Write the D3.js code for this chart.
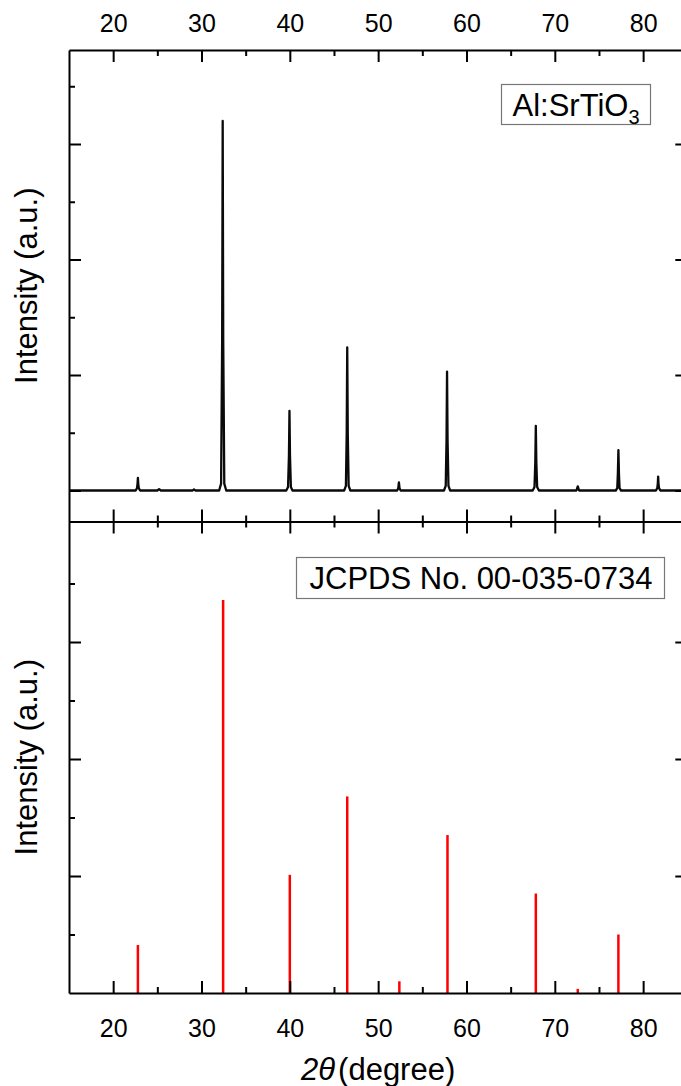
<!DOCTYPE html>
<html><head><meta charset="utf-8">
<script src="https://cdn.jsdelivr.net/npm/d3@7"></script>
<style>body{margin:0;background:#fff} text{font-family:"Liberation Sans",Arial,sans-serif}</style>
</head><body><svg id="c" width="681" height="1086"></svg>
<script>
// ---------- data ----------
const xMajor = [20, 30, 40, 50, 60, 70, 80];
const xMinor = [25, 35, 45, 55, 65, 75, 85];
const yMajor = [0, 1, 2, 3];
const yMinor = [0.5, 1.5, 2.5, 3.5];
// measured Al:SrTiO3 pattern [2theta, intensity a.u.]
const pattern = [
 [15.0,0],[20.0,0],[22.55,0],[22.7,0.02],[22.76,0.06],[22.8,0.11],[22.84,0.06],[22.9,0.02],[23.05,0],
 [25.0,0],[25.2,0.012],[25.4,0],[29.0,0],[29.15,0.01],[29.3,0],
 [32.0,0],[32.22,0.06],[32.34,1.3],[32.4,3.2],[32.46,1.3],[32.58,0.06],[32.8,0],
 [39.6,0],[39.8,0.03],[39.9,0.3],[39.96,0.69],[40.02,0.3],[40.12,0.03],[40.3,0],
 [46.15,0],[46.35,0.04],[46.44,0.5],[46.5,1.24],[46.56,0.5],[46.66,0.04],[46.85,0],
 [52.15,0],[52.28,0.02],[52.35,0.07],[52.42,0.02],[52.55,0],
 [57.45,0],[57.65,0.04],[57.74,0.43],[57.8,1.03],[57.86,0.43],[57.96,0.04],[58.15,0],
 [67.5,0],[67.7,0.03],[67.79,0.24],[67.85,0.56],[67.91,0.24],[68.0,0.03],[68.2,0],
 [72.45,0],[72.6,0.035],[72.75,0],
 [76.9,0],[77.07,0.02],[77.14,0.15],[77.2,0.35],[77.26,0.15],[77.33,0.02],[77.5,0],
 [81.45,0],[81.6,0.02],[81.66,0.06],[81.7,0.12],[81.74,0.06],[81.8,0.02],[81.95,0],
 [85.0,0]
];
// JCPDS No. 00-035-0734 reference lines
const refPos = [22.8, 32.45, 40.0, 46.5, 52.4, 57.85, 67.85, 72.6, 77.2];
const refInt = [0.41, 3.36, 1.01, 1.68, 0.10, 1.35, 0.85, 0.035, 0.50];
const labelTopMain = "Al:SrTiO", labelTopSub = "3";
const labelRef = "JCPDS No. 00-035-0734";
const yTitle = "Intensity (a.u.)";

// ---------- layout ----------
const svg = d3.select("#c");
const L = 69, R = 687.3, T = 50, M = 521.5, B = 993;
const x = d3.scaleLinear().domain([15, 85]).range([L, R]);
const yU = d3.scaleLinear().domain([-0.2684, 3.8139]).range([M, T]);
const yL = d3.scaleLinear().domain([0, 4.03]).range([B, M]);
const tickFont = 25, titleFont = 31;

svg.append("defs").append("clipPath").attr("id","clipU")
  .append("rect").attr("x",L).attr("y",T).attr("width",R-L).attr("height",M-T);

// pattern
svg.append("path").datum(pattern)
  .attr("clip-path","url(#clipU)")
  .attr("fill","none").attr("stroke","#0a0a0a").attr("stroke-width",2.3).attr("stroke-linejoin","round")
  .attr("d", d3.line().x(d=>x(d[0])).y(d=>yU(d[1])));

// reference sticks
svg.append("g").selectAll("line").data(refPos).join("line")
  .attr("x1",d=>x(d)).attr("x2",d=>x(d))
  .attr("y1",yL(0)).attr("y2",(d,i)=>yL(refInt[i]))
  .attr("stroke","#ff0000").attr("stroke-width",2.5);

function styleAxis(g, font){
  g.selectAll("path.domain").attr("stroke","#000").attr("stroke-width",2);
  g.selectAll(".tick line").attr("stroke","#000").attr("stroke-width",2);
  g.selectAll("text").attr("font-size",font).attr("fill","#000")
    .style("font-family",'"Liberation Sans",Arial,sans-serif');
}
function addAxis(axis, tx, ty, font){
  const g = svg.append("g").attr("transform",`translate(${tx},${ty})`).call(axis);
  styleAxis(g, font||tickFont);
  return g;
}
// top axis
addAxis(d3.axisTop(x).tickValues(xMajor).tickSize(-12).tickSizeOuter(0).tickPadding(18).tickFormat(d3.format("d")),0,T);
addAxis(d3.axisTop(x).tickValues(xMinor).tickSize(-6).tickSizeOuter(0).tickFormat(""),0,T).select(".domain").remove();
// middle divider (ticks both sides)
addAxis(d3.axisBottom(x).tickValues(xMajor).tickSize(-12).tickSizeOuter(0).tickFormat(""),0,M);
addAxis(d3.axisBottom(x).tickValues(xMajor).tickSize(12).tickSizeOuter(0).tickFormat(""),0,M).select(".domain").remove();
addAxis(d3.axisBottom(x).tickValues(xMinor).tickSize(-6).tickSizeOuter(0).tickFormat(""),0,M).select(".domain").remove();
addAxis(d3.axisBottom(x).tickValues(xMinor).tickSize(6).tickSizeOuter(0).tickFormat(""),0,M).select(".domain").remove();
// bottom axis
addAxis(d3.axisBottom(x).tickValues(xMajor).tickSize(-12).tickSizeOuter(0).tickPadding(26).tickFormat(d3.format("d")),0,B);
addAxis(d3.axisBottom(x).tickValues(xMinor).tickSize(-6).tickSizeOuter(0).tickFormat(""),0,B).select(".domain").remove();
// left / right axes, upper & lower
[[yU,yMajor],[yL,yMajor.filter(v=>v>0)]].forEach(([ys,maj])=>{
  addAxis(d3.axisLeft(ys).tickValues(maj).tickSize(-12).tickSizeOuter(0).tickFormat(""),L,0);
  addAxis(d3.axisLeft(ys).tickValues(yMinor).tickSize(-6).tickSizeOuter(0).tickFormat(""),L,0).select(".domain").remove();
  addAxis(d3.axisRight(ys).tickValues(maj).tickSize(-12).tickSizeOuter(0).tickFormat(""),R,0);
  addAxis(d3.axisRight(ys).tickValues(yMinor).tickSize(-6).tickSizeOuter(0).tickFormat(""),R,0).select(".domain").remove();
});

// y titles
[[yU,(T+M)/2],[yL,(M+B)/2]].forEach(([ys,cy])=>{
  svg.append("text").attr("transform",`translate(37,${cy}) rotate(-90)`)
    .attr("text-anchor","middle").attr("font-size",titleFont).text(yTitle);
});
// x title
const xt = svg.append("text").attr("x",(L+R)/2 - 0).attr("y",1080).attr("text-anchor","middle").attr("font-size",titleFont);
xt.append("tspan").attr("font-style","italic").text("2\u03B8");
xt.append("tspan").attr("dx",3).text("(degree)");

// legend boxes
const box1 = svg.append("g");
box1.append("rect").attr("x",501.5).attr("y",84.5).attr("width",149).attr("height",40)
  .attr("fill","#fff").attr("stroke","#777").attr("stroke-width",1.2);
const t1 = box1.append("text").attr("x",576).attr("y",116).attr("text-anchor","middle").attr("font-size",titleFont);
t1.append("tspan").text(labelTopMain);
t1.append("tspan").attr("font-size",20).attr("dy",8).text(labelTopSub);

const box2 = svg.append("g");
box2.append("rect").attr("x",296.5).attr("y",557.5).attr("width",368).attr("height",41)
  .attr("fill","#fff").attr("stroke","#777").attr("stroke-width",1.2);
box2.append("text").attr("x",481).attr("y",589).attr("text-anchor","middle").attr("font-size",titleFont).text(labelRef);
</script></body></html>
